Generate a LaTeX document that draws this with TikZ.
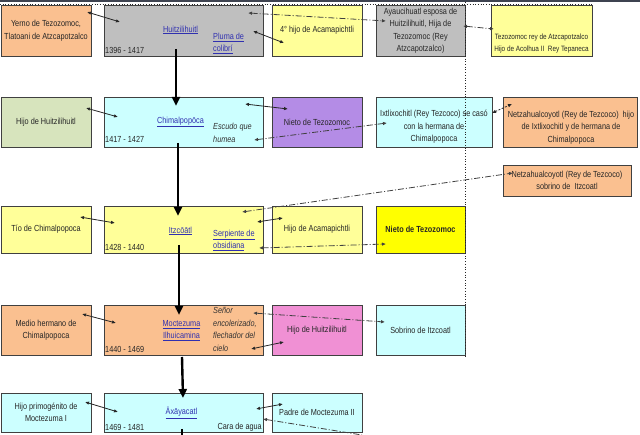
\documentclass[tikz,border=0pt]{standalone}
\usepackage{fontspec}
\setmainfont{Liberation Sans}[FakeStretch=0.83]
\usepackage{xcolor}
\usetikzlibrary{arrows.meta}
\definecolor{boxPeach}{HTML}{FAC090}
\definecolor{boxGray}{HTML}{BFBFBF}
\definecolor{boxCream}{HTML}{FFFF99}
\definecolor{boxGreen}{HTML}{D7E4BD}
\definecolor{boxCyan}{HTML}{CCFFFF}
\definecolor{boxViolet}{HTML}{B48CE6}
\definecolor{boxYellow}{HTML}{FFFF00}
\definecolor{boxPink}{HTML}{F090D4}
\definecolor{linkBlue}{HTML}{3030B0}
\definecolor{edgeGray}{HTML}{404040}
\definecolor{topBar}{HTML}{3E4350}

\begin{document}
\begin{tikzpicture}[x=1pt, y=-1pt,
  box/.style 2 args={draw=edgeGray, line width=0.6pt, minimum width=#1pt, minimum height=#2pt,
    inner sep=1pt, align=center, font=\fontsize{8.8}{12.5}\selectfont, text=black!85},
  txt/.style={inner sep=0pt, align=center, font=\fontsize{8.8}{12.5}\selectfont, text=black!85},
  link/.style={txt, text=linkBlue},
  epi/.style={txt, anchor=west, align=left, font=\fontsize{8.8}{12.5}\selectfont\itshape, text=black!80},
  yr/.style={txt, anchor=west},
  rel/.style={{Latex[length=4pt,width=3.5pt]}-{Latex[length=4pt,width=3.5pt]}, draw=black!85, line width=0.8pt},
  kin/.style={rel, draw=black!75, dash pattern=on 6pt off 2pt on 1pt off 2pt},
  reign/.style={-{Triangle[length=9pt,width=8pt]}, line width=2.4pt},
]
  \fill[white] (0,0) rectangle (640,435);
  \useasboundingbox (0,0) rectangle (640,435);
  \fill[topBar] (0,0) rectangle (640,2);

  \node[box={90}{51}, fill=boxPeach] (yerno) at (46,30.5) {Yerno de Tezozomoc,\\Tlatoani de Atzcapotzalco};
  \node[box={159}{51}, fill=boxGray] (hui) at (183.5,30.5) {};
  \node[box={90}{51}, fill=boxCream] (hijo4) at (317,30.5) {4° hijo de Acamapichtli};
  \node[box={89}{51}, fill=boxGray] (ayau) at (420.5,30.5) {Ayaucihuatl esposa de\\Huitzilihuitl, Hija de\\Tezozomoc (Rey\\Atzcapotzalco)};
  \node[box={101}{51}, fill=boxCream] (tezo) at (541.5,30.5) {};
  \node[txt, font=\fontsize{7.7}{12}\selectfont] (tezoT) at (541.5,44) {Tezozomoc rey de Atzcapotzalco\\Hijo de Acolhua II\ \ Rey Tepaneca};

  \node[box={90}{50}, fill=boxGreen] (hijoH) at (46,122) {Hijo de Huitzilihuitl};
  \node[box={159}{50}, fill=boxCyan] (chim) at (183.5,122) {};
  \node[box={90}{50}, fill=boxViolet] (nieto) at (317,122) {Nieto de Tezozomoc};
  \node[box={116}{50}, fill=boxCyan] (ixtl) at (434,122) {};
  \node[txt] (ixtlT) at (434,127) {Ixtlixochitl (Rey Tezcoco) se casó\\con la hermana de\\Chimalpopoca};
  \node[box={134}{50}, fill=boxPeach] (netz) at (570,122) {};
  \node[txt] (netzT) at (571,127.5) {Netzahualcoyotl (Rey de Tezcoco)\ \ hijo\\de Ixtlixochitl y de hermana de\\Chimalpopoca};

  \node[box={128}{31}, fill=boxPeach] (netzS) at (567,180.5) {Netzahualcoyotl (Rey de Tezcoco)\\sobrino de\ \ Itzcoatl};

  \node[box={90}{47}, fill=boxCream] (tio) at (46,229.5) {Tío de Chimalpopoca};
  \node[box={159}{47}, fill=boxCream] (itz) at (183.5,229.5) {};
  \node[box={90}{47}, fill=boxCream] (hijoA) at (317,229.5) {Hijo de Acamapichtli};
  \node[box={89}{47}, fill=boxYellow, font=\fontsize{8.8}{12.5}\selectfont\bfseries] (nietoB) at (420.5,229.5) {Nieto de Tezozomoc};

  \node[box={90}{50}, fill=boxPeach] (medio) at (46,330) {Medio hermano de\\Chimalpopoca};
  \node[box={159}{50}, fill=boxPeach] (moct) at (183.5,330) {};
  \node[box={90}{50}, fill=boxPink] (hijoHu) at (317,330) {Hijo de Huitzilihuitl};
  \node[box={89}{50}, fill=boxCyan] (sobr) at (420.5,330) {Sobrino de Itzcoatl};

  \node[box={90}{39}, fill=boxCyan] (primo) at (46,412.5) {Hijo primogénito de\\Moctezuma I};
  \node[box={159}{39}, fill=boxCyan] (axay) at (183.5,412.5) {};
  \node[box={90}{39}, fill=boxCyan] (padre) at (317,412.5) {Padre de Moctezuma II};

  \node[link] (huiN) at (180.5,30) {\underline{Huitzilihuitl}};
  \node[link, anchor=west, align=left] (huiE) at (213,43.5) {\underline{Pluma de}\\\underline{colibrí}};
  \node[yr] (huiY) at (105,50) {1396 - 1417};
  \node[link] (chimN) at (180.5,122) {\underline{Chimalpopōca}};
  \node[epi] (chimE) at (213,133) {Escudo que\\humea};
  \node[yr] (chimY) at (105,139) {1417 - 1427};
  \node[link] (itzN) at (180.5,231) {\underline{Itzcōātl}};
  \node[link, anchor=west, align=left] (itzE) at (213,240.5) {\underline{Serpiente de}\\\underline{obsidiana}};
  \node[yr] (itzY) at (105,247) {1428 - 1440};
  \node[link] (moctN) at (181.5,330.5) {\underline{Moctezuma}\\\underline{Ilhuicamina}};
  \node[epi] (moctE) at (213,329.5) {Señor\\encolerizado,\\flechador del\\cielo};
  \node[yr] (moctY) at (105,349) {1440 - 1469};
  \node[link] (axayN) at (181.5,413) {\underline{Āxāyacatl}};
  \node[yr] (axayY) at (105,427) {1469 - 1481};
  \node[txt, anchor=east] (axayE) at (262,427) {Cara de agua};

  \draw[reign] ([shift={(-7.5,18.5)}]hui.center) -- ([shift={(-7.5,-16)}]chim.center);
  \draw[reign] ([shift={(-5.5,21)}]chim.center) -- ([shift={(-5.5,-13.5)}]itz.center);
  \draw[reign] ([shift={(-4.5,15.5)}]itz.center) -- ([shift={(-4.5,-15)}]moct.center);
  \draw[reign] ([shift={(-1.5,27)}]moct.center) -- ([shift={(-0.5,-14.5)}]axay.center);
  \coordinate (axayOut) at (182,435);
  \draw[line width=2.4pt] ([shift={(-1.5,16.5)}]axay.center) -- (axayOut);

  \draw[rel] ([shift={(41,-18.5)}]yerno.center) -- ([shift={(-63.5,-8.5)}]hui.center);
  \draw[kin] ([shift={(64.5,-17.5)}]hui.center) -- ([shift={(-34.5,-9.5)}]ayau.center);
  \draw[rel] ([shift={(69.5,0.5)}]hui.center) -- ([shift={(-33,12.5)}]hijo4.center);
  \draw[kin] ([shift={(42.5,-4.5)}]ayau.center) -- ([shift={(-47.5,-1.5)}]tezo.center);

  \draw[rel] ([shift={(40,-14)}]hijoH.center) -- ([shift={(-65.5,-5)}]chim.center);
  \draw[rel] ([shift={(61.5,-18)}]chim.center) -- ([shift={(-29,-13)}]nieto.center);
  \draw[kin] ([shift={(70.5,18)}]chim.center) -- ([shift={(-47,1)}]ixtl.center);
  \draw[rel, dash pattern=on 2pt off 1.5pt] ([shift={(58,-9)}]ixtl.center) -- ([shift={(-58,-18)}]netz.center);

  \draw[rel] ([shift={(34,-12.5)}]tio.center) -- ([shift={(-68.5,-6.5)}]itz.center);
  \draw[kin] ([shift={(58.5,-17.5)}]itz.center) -- ([shift={(-54,-7.5)}]netzS.center);
  \draw[rel] ([shift={(73.5,-7.5)}]itz.center) -- ([shift={(-34,-11.5)}]hijoA.center);
  \draw[kin] ([shift={(75.5,18.5)}]itz.center) -- ([shift={(-34.5,14.5)}]nietoB.center);

  \draw[rel] ([shift={(36,-16)}]medio.center) -- ([shift={(-67.5,-7)}]moct.center);
  \draw[kin] ([shift={(69.5,-17)}]moct.center) -- ([shift={(-35.5,-8)}]sobr.center);
  \draw[rel] ([shift={(67.5,19)}]moct.center) -- ([shift={(-33,12)}]hijoHu.center);

  \draw[rel] ([shift={(39,-10.5)}]primo.center) -- ([shift={(-65.5,-0.5)}]axay.center);
  \draw[rel] ([shift={(72.5,-3.5)}]axay.center) -- ([shift={(-34,-8.5)}]padre.center);
  \coordinate (kinOut) at (362,435);
  \draw[kin, {Latex[length=4pt,width=3.5pt]}-] ([shift={(79.5,6.5)}]axay.center) -- (kinOut);

  \draw[black!85, dotted, line width=0.7pt] (0,4.5) -- (593,4.5);
  \draw[black!85, dotted, line width=0.7pt] (465.5,2) -- (465.5,358);
\end{tikzpicture}
\end{document}
